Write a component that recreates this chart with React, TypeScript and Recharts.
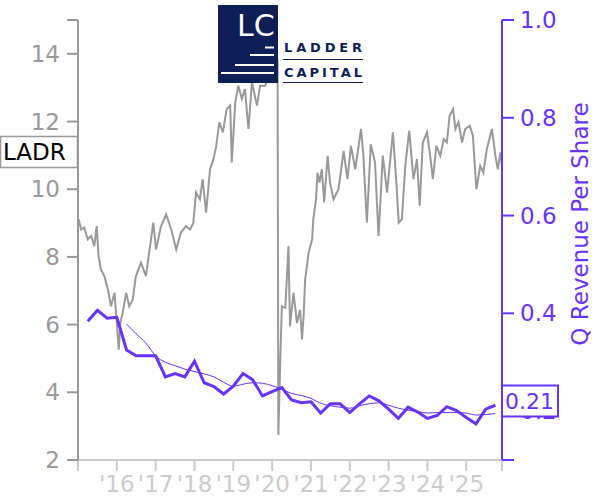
import { ComposedChart, Line, XAxis, YAxis } from "recharts";

const priceYears = [
	2015.02, 2015.08, 2015.16, 2015.25, 2015.34, 2015.42, 2015.48, 2015.53, 2015.59, 2015.68,
	2015.77, 2015.85, 2015.94, 2015.98, 2016.05, 2016.09, 2016.15, 2016.24, 2016.32, 2016.41,
	2016.49, 2016.62, 2016.75, 2016.82, 2016.88, 2016.94, 2017.01, 2017.14, 2017.27, 2017.4,
	2017.53, 2017.65, 2017.78, 2017.89, 2017.97, 2018.04, 2018.14, 2018.21, 2018.3, 2018.4,
	2018.49, 2018.56, 2018.64, 2018.73, 2018.83, 2018.92, 2018.96, 2019.05, 2019.13, 2019.22,
	2019.3, 2019.39, 2019.48, 2019.61, 2019.69, 2019.82, 2019.9, 2020.0, 2020.09, 2020.14,
	2020.16, 2020.21, 2020.25, 2020.34, 2020.42, 2020.46, 2020.55, 2020.64, 2020.72, 2020.77,
	2020.81, 2020.85, 2020.94, 2021.03, 2021.06, 2021.13, 2021.17, 2021.22, 2021.28, 2021.34,
	2021.43, 2021.49, 2021.58, 2021.71, 2021.84, 2021.94, 2022.03, 2022.14, 2022.29, 2022.35,
	2022.44, 2022.54, 2022.65, 2022.74, 2022.85, 2022.96, 2023.06, 2023.11, 2023.2, 2023.26,
	2023.34, 2023.43, 2023.53, 2023.64, 2023.73, 2023.8, 2023.88, 2023.99, 2024.07, 2024.14,
	2024.23, 2024.33, 2024.42, 2024.5, 2024.57, 2024.66, 2024.72, 2024.8, 2024.89, 2024.97,
	2025.09, 2025.17, 2025.26, 2025.36, 2025.44, 2025.53, 2025.66, 2025.75, 2025.81, 2025.88,
	2025.92,
];

const prices = [
	9.11, 8.81, 8.87, 8.52, 8.62, 8.32, 8.91, 8.02, 7.63, 7.43,
	7.04, 6.54, 6.94, 6.35, 5.26, 6.05, 6.35, 6.94, 6.54, 6.74,
	7.43, 7.83, 7.43, 8.02, 8.52, 9.01, 8.22, 8.91, 9.26, 8.81,
	8.22, 8.72, 8.91, 8.81, 9.01, 9.9, 9.7, 10.3, 9.31, 10.59,
	10.89, 11.28, 11.98, 11.68, 12.37, 12.47, 10.79, 12.57, 13.06, 12.67,
	12.96, 11.78, 13.16, 12.47, 13.06, 13.06, 13.26, 13.6, 13.9, 13.85,
	2.74, 4.96, 6.54, 6.49, 8.32, 5.95, 6.94, 6.05, 6.44, 5.56,
	6.25, 7.33, 8.12, 8.52, 9.11, 9.7, 10.49, 10.2, 10.59, 9.61,
	10.99, 10.2, 9.7, 10.0, 11.13, 10.3, 11.28, 10.59, 11.78, 10.99,
	9.01, 11.33, 10.79, 8.62, 10.99, 9.9, 11.09, 11.68, 10.2, 9.01,
	9.11, 10.69, 11.73, 10.3, 10.89, 9.51, 11.38, 11.68, 10.99, 10.3,
	11.28, 10.99, 11.48, 11.38, 12.17, 12.37, 11.78, 11.98, 11.38, 11.78,
	11.88, 11.58, 10.0, 10.69, 10.49, 11.19, 11.78, 10.99, 10.59, 11.09,
	10.69,
];

const quarterYears = [
	2015.25, 2015.5, 2015.75, 2016.0, 2016.25, 2016.5, 2016.75, 2017.0, 2017.25, 2017.5,
	2017.75, 2018.0, 2018.25, 2018.5, 2018.75, 2019.0, 2019.25, 2019.5, 2019.75, 2020.0,
	2020.25, 2020.5, 2020.75, 2021.0, 2021.25, 2021.5, 2021.75, 2022.0, 2022.25, 2022.5,
	2022.75, 2023.0, 2023.25, 2023.5, 2023.75, 2024.0, 2024.25, 2024.5, 2024.75, 2025.0,
	2025.25, 2025.5, 2025.75,
];

const revenuePerShare = [
	0.384, 0.406, 0.39, 0.392, 0.325, 0.313, 0.313, 0.313, 0.27, 0.277,
	0.27, 0.302, 0.258, 0.25, 0.235, 0.251, 0.277, 0.264, 0.231, 0.24,
	0.248, 0.223, 0.217, 0.219, 0.196, 0.215, 0.215, 0.197, 0.215, 0.231,
	0.221, 0.204, 0.185, 0.208, 0.198, 0.185, 0.191, 0.209, 0.201, 0.187,
	0.174, 0.204, 0.212,
];

// thin trend line, starts at 2016.25
const revenueTrend = [
	null, null, null, null, 0.378, 0.358, 0.339, 0.313, 0.3, 0.293,
	0.286, 0.281, 0.276, 0.27, 0.259, 0.251, 0.255, 0.258, 0.257, 0.252,
	0.245, 0.236, 0.232, 0.226, 0.216, 0.211, 0.208, 0.206, 0.211, 0.215,
	0.217, 0.212, 0.206, 0.202, 0.199, 0.196, 0.197, 0.197, 0.197, 0.196,
	0.192, 0.193, 0.195,
];

const xTicks = [2015, 2016, 2017, 2018, 2019, 2020, 2021, 2022, 2023, 2024, 2025, 2025.92];
const priceTicks = [2, 4, 6, 8, 10, 12, 14, 15];
const revenueTicks = [0.1, 0.2, 0.4, 0.6, 0.8, 1.0];

const PURPLE = "#6633ff";
const GRAY = "#999999";
const NAVY = "#0e1e56";
const FONT = "DejaVu Sans, sans-serif";

const priceData = priceYears.map((t, i) => ({ t, price: prices[i] }));
const revenueData = quarterYears.map((t, i) => ({
	t,
	rev: revenuePerShare[i],
	trend: revenueTrend[i],
}));

export default function App() {
	return (
		<div style={{ position: "absolute", left: 0, top: 0, width: 600, height: 500, background: "#fff" }}>
			<ComposedChart width={600} height={500} margin={{ top: 20, right: 0, bottom: 0, left: 0 }}>
				<XAxis
					dataKey="t"
					type="number"
					domain={[2015, 2025.92]}
					ticks={xTicks}
					allowDataOverflow
					height={40}
					stroke="#cccccc"
					strokeWidth={2}
					tickSize={11}
					tickMargin={5}
					tick={{ fill: "#cccccc", fontSize: 23, fontFamily: FONT }}
					tickFormatter={(v: number) =>
						Number.isInteger(v) && v > 2015 ? `'${String(v).slice(2)}` : ""
					}
					interval={0}
				/>
				<YAxis
					yAxisId="left"
					width={78}
					domain={[2, 15]}
					ticks={priceTicks}
					allowDataOverflow
					stroke={GRAY}
					strokeWidth={2}
					tickSize={11}
					tickMargin={7}
					tick={{ fill: GRAY, fontSize: 23, fontFamily: FONT }}
					tickFormatter={(v: number) => (v === 15 ? "" : String(v))}
					interval={0}
				/>
				<YAxis
					yAxisId="right"
					orientation="right"
					width={98}
					domain={[0.1, 1.0]}
					ticks={revenueTicks}
					allowDataOverflow
					stroke={PURPLE}
					strokeWidth={2}
					tickSize={12}
					tickMargin={6}
					tick={{ fill: PURPLE, fontSize: 23, fontFamily: FONT }}
					tickFormatter={(v: number) => (v === 0.1 ? "" : v.toFixed(1))}
					interval={0}
				/>
				<Line
					yAxisId="left"
					data={priceData}
					dataKey="price"
					type="linear"
					stroke={GRAY}
					strokeWidth={2}
					dot={false}
					isAnimationActive={false}
				/>
				<Line
					yAxisId="right"
					data={revenueData}
					dataKey="trend"
					type="monotone"
					stroke={PURPLE}
					strokeWidth={1}
					dot={false}
					connectNulls={false}
					isAnimationActive={false}
				/>
				<Line
					yAxisId="right"
					data={revenueData}
					dataKey="rev"
					type="linear"
					stroke={PURPLE}
					strokeWidth={3}
					dot={false}
					isAnimationActive={false}
				/>
			</ComposedChart>
			<svg
				width={600}
				height={500}
				style={{ position: "absolute", left: 0, top: 0, pointerEvents: "none" }}
			>
				<text
					x={580}
					y={224}
					transform="rotate(-90 580 224)"
					textAnchor="middle"
					dominantBaseline="central"
					fill={PURPLE}
					fontSize={23}
					fontFamily={FONT}
				>
					Q Revenue Per Share
				</text>
				<rect x={0.5} y={136.5} width={77} height={31} fill="#fff" stroke={GRAY} strokeWidth={1.5} />
				<text x={3} y={160} fill="#000" fontSize={23} fontFamily={FONT}>
					LADR
				</text>
				<rect x={502} y={385.5} width={56} height={31} fill="#fff" stroke={PURPLE} strokeWidth={2} />
				<text x={505} y={409} fill={PURPLE} fontSize={22} fontFamily={FONT}>
					0.21
				</text>
				<rect x={218} y={5} width={60} height={78} fill={NAVY} />
				<text x={237} y={36} fill="#fff" fontSize={30} fontFamily={FONT}>
					LC
				</text>
				<line x1={265} x2={274} y1={47.5} y2={47.5} stroke="#fff" strokeWidth={2} />
				<line x1={250} x2={274} y1={55} y2={55} stroke="#fff" strokeWidth={2} />
				<line x1={235} x2={274} y1={65} y2={65} stroke="#fff" strokeWidth={2} />
				<line x1={221} x2={274} y1={73} y2={73} stroke="#fff" strokeWidth={2} />
				<text
					x={284}
					y={52}
					fill={NAVY}
					fontSize={13}
					fontWeight="bold"
					fontFamily={FONT}
					textLength={78}
					lengthAdjust="spacing"
				>
					LADDER
				</text>
				<line x1={283} x2={363} y1={59.5} y2={59.5} stroke={NAVY} strokeWidth={1} />
				<text
					x={284}
					y={77}
					fill={NAVY}
					fontSize={13}
					fontWeight="bold"
					fontFamily={FONT}
					textLength={78}
					lengthAdjust="spacing"
				>
					CAPITAL
				</text>
				<line x1={283} x2={363} y1={82.5} y2={82.5} stroke={NAVY} strokeWidth={1} />
			</svg>
		</div>
	);
}
